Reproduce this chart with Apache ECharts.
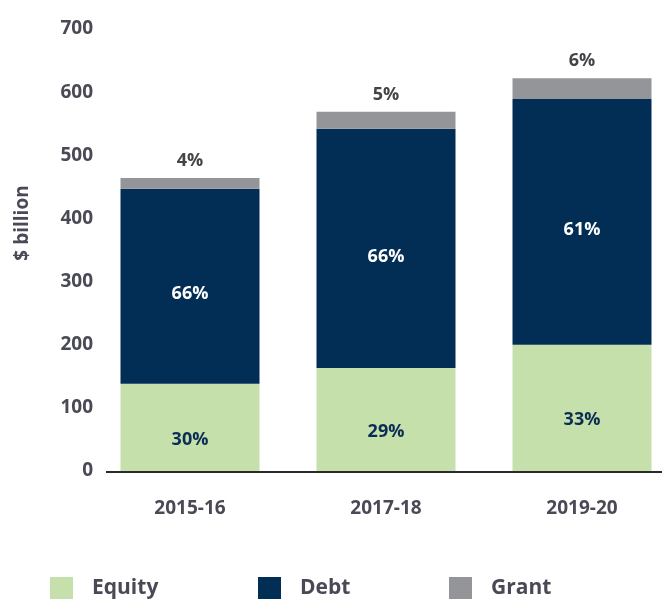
<!DOCTYPE html>
<html>
<head>
<meta charset="utf-8">
<script src="https://cdn.jsdelivr.net/npm/echarts@6/dist/echarts.min.js"></script>
<style>
  html, body { margin: 0; padding: 0; background: #fff; }
  #chart { width: 662px; height: 599px; }
</style>
</head>
<body>
<div id="chart"></div>
<script>
const categories = ["2015-16", "2017-18", "2019-20"];
const equity = [138, 163, 200];
const debt = [309, 379, 389];
const grant = [17, 27, 33];
const equityPct = ["30%", "29%", "33%"];
const debtPct = ["66%", "66%", "61%"];
const grantPct = ["4%", "5%", "6%"];
const yTicks = [0, 100, 200, 300, 400, 500, 600, 700];

const FONT = "Open Sans";
const GREY_TEXT = "#4a4a56";

const chart = echarts.init(document.getElementById("chart"), null, { renderer: "canvas" });

// each legend item sits at its own spot, so one legend per series
const legendItem = (name, left) => ({
  data: [name],
  left: left,
  top: 577,
  padding: 0,
  icon: "rect",
  itemWidth: 23,
  itemHeight: 23,
  textStyle: {
    fontFamily: FONT,
    fontWeight: "bold",
    fontSize: 21,
    color: GREY_TEXT,
    padding: [0, 0, 0, 14],
  },
});

chart.setOption({
  animation: false,
  backgroundColor: "#fff",
  textStyle: { fontFamily: FONT },
  legend: [
    legendItem("Equity", 50),
    legendItem("Debt", 258),
    legendItem("Grant", 449),
  ],
  grid: {
    left: 92,
    top: 29,
    width: 588,
    height: 442,
    outerBoundsMode: "none", // last category runs past the right edge
  },
  xAxis: {
    type: "category",
    data: categories,
    axisLine: { show: false },
    axisTick: { show: false },
    axisLabel: {
      margin: 28,
      fontFamily: FONT,
      fontWeight: "bold",
      fontSize: 19,
      color: GREY_TEXT,
    },
  },
  yAxis: {
    type: "value",
    min: yTicks[0],
    max: yTicks[yTicks.length - 1],
    interval: 100,
    name: "$ billion",
    nameLocation: "middle",
    nameRotate: 90,
    nameGap: 60,
    nameTextStyle: {
      fontFamily: FONT,
      fontWeight: "bold",
      fontSize: 19,
      color: GREY_TEXT,
      padding: [0, 0, 0, 54],
    },
    splitLine: { show: false },
    axisLine: { show: false },
    axisTick: { show: false },
    axisLabel: {
      margin: -1,
      fontFamily: FONT,
      fontWeight: "bold",
      fontSize: 19,
      color: GREY_TEXT,
      padding: [0, 0, 5, 0],
    },
  },
  series: [
    {
      name: "Equity",
      type: "bar",
      stack: "total",
      barWidth: 139,
      itemStyle: { color: "#c5e0ab" },
      label: {
        show: true,
        position: "inside",
        offset: [0, 12],
        formatter: (p) => equityPct[p.dataIndex],
        fontFamily: FONT,
        fontWeight: "bold",
        fontSize: 18,
        color: "#0b2d55",
      },
      data: equity,
    },
    {
      name: "Debt",
      type: "bar",
      stack: "total",
      itemStyle: { color: "#022d55" },
      label: {
        show: true,
        position: "inside",
        offset: [0, 8],
        formatter: (p) => debtPct[p.dataIndex],
        fontFamily: FONT,
        fontWeight: "bold",
        fontSize: 18,
        color: "#ffffff",
      },
      data: debt,
    },
    {
      name: "Grant",
      type: "bar",
      stack: "total",
      itemStyle: { color: "#939598" },
      label: {
        show: true,
        position: "top",
        distance: 8,
        formatter: (p) => grantPct[p.dataIndex],
        fontFamily: FONT,
        fontWeight: "bold",
        fontSize: 18,
        color: "#444448",
      },
      data: grant,
    },
  ],
});

// baseline: starts a little right of the grid edge like the original
const y0 = chart.convertToPixel({ yAxisIndex: 0 }, 0);
chart.setOption({
  graphic: [
    {
      type: "line",
      shape: { x1: 106, y1: y0 + 1, x2: 662, y2: y0 + 1 },
      style: { stroke: "#2b2b2b", lineWidth: 2 },
      z: 10,
    },
  ],
});

window.addEventListener("resize", () => chart.resize());
</script>
</body>
</html>
